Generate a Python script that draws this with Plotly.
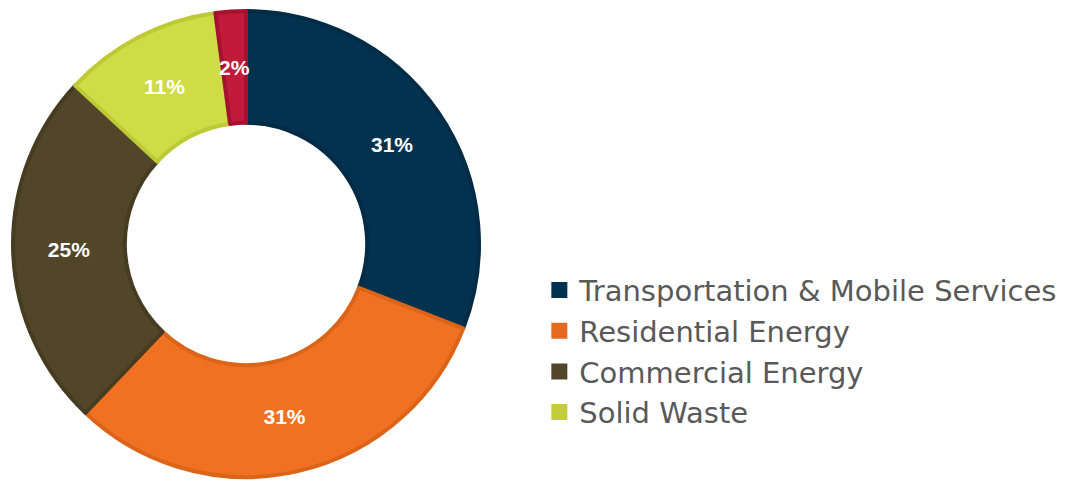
import math
import plotly.graph_objects as go

categories = ["Transportation & Mobile Services", "Residential Energy", "Commercial Energy", "Solid Waste", "Other"]
values = [30.9, 31.2, 24.8, 11.0, 2.1]
fill_colors = ["#02324F", "#F07122", "#514629", "#D0DC45", "#C21A3A"]
edge_colors = ["#022B45", "#DB6419", "#463C22", "#BDC935", "#A51230"]
legend_items = categories[:4]
legend_colors = ["#02324F", "#E56A20", "#514629", "#C3CC3A"]

W, H = 1068, 481
dom_x = [0.0122, 0.4485]
dom_y = [0.0083, 0.9771]
hole = 0.52

fig = go.Figure()
text_pos = ["inside"] * 4 + ["none"]
fig.add_trace(go.Pie(
    labels=categories,
    values=values,
    hole=hole,
    sort=False,
    direction="clockwise",
    rotation=0,
    marker=dict(colors=fill_colors, line=dict(color=edge_colors, width=4)),
    texttemplate="%{percent:.0%}",
    textposition=text_pos,
    insidetextorientation="horizontal",
    textfont=dict(family="Arial, Liberation Sans", size=21, color="white", weight="bold"),
    showlegend=False,
    hoverinfo="label+percent",
    domain=dict(x=dom_x, y=dom_y),
))

# label for the small last slice, placed at the slice's mid-angle on the ring
cx = (dom_x[0] + dom_x[1]) / 2 * W
cy = (1 - (dom_y[0] + dom_y[1]) / 2) * H
r = min((dom_x[1] - dom_x[0]) * W, (dom_y[1] - dom_y[0]) * H) / 2
total = sum(values)
start = sum(values[:-1]) / total
mid = start + values[-1] / total / 2
ang = mid * 2 * math.pi
rm = r * (1 + hole) / 2
px = cx + rm * math.sin(ang)
py = cy - rm * math.cos(ang)
fig.add_annotation(
    x=px / W, y=1 - py / H, xref="paper", yref="paper",
    xanchor="center", yanchor="middle",
    text=f"{round(values[-1] / total * 100)}%", showarrow=False,
    font=dict(family="Arial, Liberation Sans", size=21, color="white", weight="bold"),
)

for name, col in zip(legend_items, legend_colors):
    fig.add_trace(go.Scatter(
        x=[None], y=[None], mode="markers", name=name,
        marker=dict(symbol="square", size=19, color=col),
        showlegend=True,
    ))

fig.update_layout(
    width=W, height=H,
    margin=dict(l=0, r=0, t=0, b=0),
    paper_bgcolor="white", plot_bgcolor="white",
    xaxis=dict(visible=False), yaxis=dict(visible=False),
    legend=dict(
        x=0.505, y=0.27, xanchor="left", yanchor="middle",
        font=dict(family="DejaVu Sans", size=29, color="#595959"),
        itemsizing="trace", bgcolor="rgba(0,0,0,0)",
        tracegroupgap=0,
    ),
)

fig.write_html("out.html")
